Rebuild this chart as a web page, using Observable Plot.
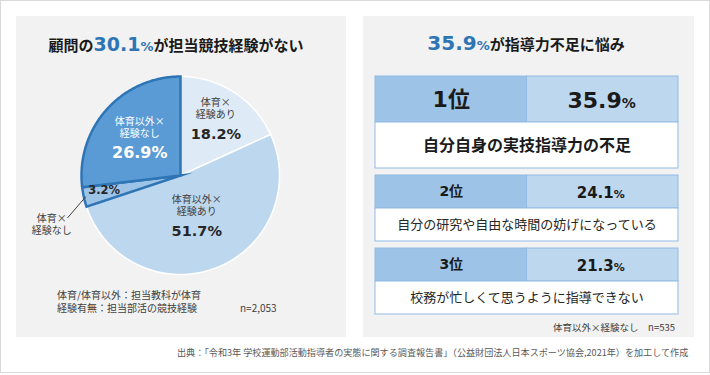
<!DOCTYPE html>
<html><head><meta charset="utf-8">
<script src="https://cdn.jsdelivr.net/npm/d3@7"></script>
<script src="https://cdn.jsdelivr.net/npm/@observablehq/plot@0.6"></script>
<style>
body{margin:0;background:#fff;font-family:"Noto Sans CJK JP",sans-serif;}
#frame{position:absolute;left:0;top:0;width:708px;height:371px;border:1px solid #d9d9d9;}
.panel{position:absolute;top:16px;height:321px;background:#f2f2f2;}
.abs{position:absolute;white-space:nowrap;}
.title{font-weight:bold;font-size:15px;color:#1a1a1a;text-align:center;line-height:24px;}
.num{font-family:"DejaVu Sans",sans-serif;color:#2e75b6;font-weight:bold;}
.note{font-size:10px;color:#404040;line-height:13px;}
.src{font-size:9.1px;color:#595959;line-height:12px;}
svg{overflow:visible;}
</style></head><body>
<div id="frame"></div>
<div class="panel" style="left:16px;width:330px"></div>
<div class="panel" style="left:363px;width:331px"></div>
<div class="abs title" style="left:16px;width:320px;top:32px"><span>顧問の</span><span class="num" id="t1n" style="font-size:19px"></span><span class="num" style="font-size:13px">%</span><span>が担当競技経験がない</span></div>
<div class="abs title" style="left:363px;width:326px;top:31px"><span class="num" id="t2n" style="font-size:20px"></span><span class="num" style="font-size:13px">%</span><span>が指導力不足に悩み</span></div>
<div id="pie" class="abs" style="left:16px;top:65px"></div>
<div id="table" class="abs" style="left:363px;top:70px"></div>
<div class="abs note" style="left:57px;top:288px">体育/体育以外：担当教科が体育<br>経験有無：担当部活の競技経験</div>
<div class="abs note" id="n1" style="left:240px;top:301px"></div>
<div class="abs note" id="n2" style="right:35px;top:321px;font-size:9.5px"></div>
<div class="abs src" style="left:177px;top:346px">出典：「令和3年 学校運動部活動指導者の実態に関する調査報告書」（公益財団法人日本スポーツ協会,2021年）を加工して作成</div>
<script>
// ---- data ----
const pieCategories = ["体育×経験あり", "体育以外×経験あり", "体育×経験なし", "体育以外×経験なし"];
const pieShares = [18.2, 51.7, 3.2, 26.9];
const pieTotal = 2053;
const rankLabels = ["1位", "2位", "3位"];
const rankPercents = [35.9, 24.1, 21.3];
const rankReasons = ["自分自身の実技指導力の不足", "自分の研究や自由な時間の妨げになっている", "校務が忙しくて思うように指導できない"];
const rankGroup = "体育以外×経験なし";
const rankTotal = 535;

// ---- styles ----
const pieColors = ["#deebf7", "#bdd7ee", "#9dc3e6", "#5b9bd5"];
const hiStroke = "#2e75b6";
const numFont = "DejaVu Sans, Noto Sans CJK JP, sans-serif";
const jpFont = "Noto Sans CJK JP, sans-serif";

// ---- texts from data ----
const isHi = c => c.endsWith("経験なし");
const hiSum = d3.sum(pieCategories.map((c, i) => isHi(c) ? pieShares[i] : 0));
document.getElementById("t1n").textContent = hiSum.toFixed(1);
document.getElementById("t2n").textContent = rankPercents[0].toFixed(1);
document.getElementById("n1").textContent = "n=" + d3.format(",")(pieTotal);
document.getElementById("n2").textContent = rankGroup + "　n=" + rankTotal;

// ---- pie geometry ----
const polar = (a, r) => [r * Math.sin(a), r * Math.cos(a)];
const slices = [];
let acc = 0;
pieCategories.forEach((cat, i) => {
  const a0 = acc / 100 * 2 * Math.PI;
  acc += pieShares[i];
  const a1 = acc / 100 * 2 * Math.PI;
  slices.push({cat, share: pieShares[i], a0, a1, mid: (a0 + a1) / 2, hi: isHi(cat)});
});
const slicePts = slices.flatMap(s => {
  const n = Math.max(2, Math.ceil((s.a1 - s.a0) / (Math.PI / 360)));
  const pts = [{cat: s.cat, hi: s.hi, x: 0, y: 0}];
  for (let k = 0; k <= n; k++) {
    const [x, y] = polar(s.a0 + (s.a1 - s.a0) * k / n, 1);
    pts.push({cat: s.cat, hi: s.hi, x, y});
  }
  return pts;
});
const labelR = {"体育×経験あり": 0.66, "体育以外×経験あり": 0.45, "体育以外×経験なし": 0.55};
const inside = slices.filter(s => s.cat in labelR).map(s => {
  const [x, y] = polar(s.mid, labelR[s.cat]);
  return {...s, x, y};
});
const callout = slices.filter(s => !(s.cat in labelR)).map(s => {
  const off = -8 * Math.PI / 180;
  const [vx, vy] = polar(s.mid, 0.79);
  const [x1, y1] = polar(s.mid, 0.98);
  const [x2, y2] = polar(s.mid + off, 1.22);
  const [tx, ty] = polar(s.mid + off, 1.39);
  return {...s, vx, vy, x1, y1, x2, y2, tx, ty};
});
const nameText = d => d.cat.replace("×", "×\n");
const pctText = d => d.share.toFixed(1) + "%";

const pie = Plot.plot({
  width: 330, height: 225, margin: 0,
  x: {domain: [-1, 1], range: [65, 263], axis: null},
  y: {domain: [-1, 1], range: [209, 11], axis: null},
  color: {domain: pieCategories, range: pieColors},
  style: {background: "transparent", overflow: "visible"},
  marks: [
    Plot.line(slicePts.filter(d => !d.hi), {x: "x", y: "y", z: "cat", fill: "cat", stroke: "white", strokeWidth: 1.5, curve: "linear-closed", strokeLinejoin: "miter", strokeMiterlimit: 10}),
    Plot.line(slicePts.filter(d => d.hi), {x: "x", y: "y", z: "cat", fill: "cat", stroke: hiStroke, strokeWidth: 2.5, curve: "linear-closed", strokeLinejoin: "miter", strokeMiterlimit: 10}),
    Plot.text(inside.filter(d => !d.hi), {x: "x", y: "y", text: nameText, dy: -12, fontSize: 10, lineHeight: 1.2, fill: "#404040", fontFamily: jpFont}),
    Plot.text(inside.filter(d => d.hi), {x: "x", y: "y", text: nameText, dy: -12, fontSize: 10, lineHeight: 1.2, fill: "white", fontFamily: jpFont}),
    Plot.text(inside.filter(d => !d.hi), {x: "x", y: "y", text: pctText, dy: 14, fontSize: 14.5, fontWeight: "bold", fill: "#262626", fontFamily: numFont}),
    Plot.text(inside.filter(d => d.hi), {x: "x", y: "y", text: pctText, dy: 14, fontSize: 16, fontWeight: "bold", fill: "white", fontFamily: numFont}),
    Plot.text(callout, {x: "vx", y: "vy", text: pctText, dy: -2, fontSize: 11.5, fontWeight: "bold", fill: "#262626", fontFamily: numFont}),
    Plot.link(callout, {x1: "x1", y1: "y1", x2: "x2", y2: "y2", stroke: "#404040", strokeWidth: 1}),
    Plot.text(callout, {x: "tx", y: "ty", text: nameText, fontSize: 10, lineHeight: 1.2, fill: "#404040", fontFamily: jpFont})
  ]
});
document.getElementById("pie").append(pie);

// ---- ranking table ----
const rows = [];
let cursor = 0;
rankLabels.forEach((r, i) => {
  const h = i === 0 ? 46 : 33;
  rows.push({rank: r, pct: rankPercents[i], reason: rankReasons[i], y0: cursor, h, first: i === 0});
  cursor += 2 * h + 7;
});
const hdrY = d => d.y0 + d.h / 2;
const bodyY = d => d.y0 + 1.5 * d.h;
const border = "#92bbe4";
const firstRow = rows.filter(d => d.first), restRows = rows.filter(d => !d.first);
const table = Plot.plot({
  width: 331, height: 256, margin: 0,
  x: {domain: [0, 2], range: [12, 315], axis: null},
  y: {domain: [0, 250], range: [6, 256], axis: null},
  style: {background: "transparent", overflow: "visible"},
  marks: [
    Plot.rect(rows, {x1: () => 0, x2: () => 1, y1: "y0", y2: d => d.y0 + d.h, fill: "#9dc3e6", stroke: border}),
    Plot.rect(rows, {x1: () => 1, x2: () => 2, y1: "y0", y2: d => d.y0 + d.h, fill: "#bdd7ee", stroke: border}),
    Plot.rect(rows, {x1: () => 0, x2: () => 2, y1: d => d.y0 + d.h, y2: d => d.y0 + 2 * d.h, fill: "white", stroke: border}),
    Plot.text(firstRow, {x: () => 0.5, y: hdrY, text: "rank", fontSize: 22, fontWeight: "bold", fill: "#1a1a1a", fontFamily: numFont}),
    Plot.text(restRows, {x: () => 0.5, y: hdrY, text: "rank", fontSize: 14, fontWeight: "bold", fill: "#1a1a1a", fontFamily: numFont}),
    Plot.text(firstRow, {x: () => 1.5, y: hdrY, text: d => d.pct.toFixed(1), textAnchor: "end", lineAnchor: "bottom", dx: 19, dy: 8, fontSize: 22, fontWeight: "bold", fill: "#1a1a1a", fontFamily: numFont}),
    Plot.text(firstRow, {x: () => 1.5, y: hdrY, text: () => "%", textAnchor: "start", lineAnchor: "bottom", dx: 19, dy: 8, fontSize: 14, fontWeight: "bold", fill: "#1a1a1a", fontFamily: numFont}),
    Plot.text(restRows, {x: () => 1.5, y: hdrY, text: d => d.pct.toFixed(1), textAnchor: "end", lineAnchor: "bottom", dx: 11, dy: 5.5, fontSize: 15, fontWeight: "bold", fill: "#1a1a1a", fontFamily: numFont}),
    Plot.text(restRows, {x: () => 1.5, y: hdrY, text: () => "%", textAnchor: "start", lineAnchor: "bottom", dx: 11, dy: 5.5, fontSize: 11, fontWeight: "bold", fill: "#1a1a1a", fontFamily: numFont}),
    Plot.text(firstRow, {x: () => 1, y: bodyY, text: "reason", fontSize: 16, fontWeight: "bold", fill: "#1a1a1a", fontFamily: jpFont}),
    Plot.text(restRows, {x: () => 1, y: bodyY, text: "reason", fontSize: 13, fill: "#262626", fontFamily: jpFont})
  ]
});
document.getElementById("table").append(table);
</script>
</body></html>
